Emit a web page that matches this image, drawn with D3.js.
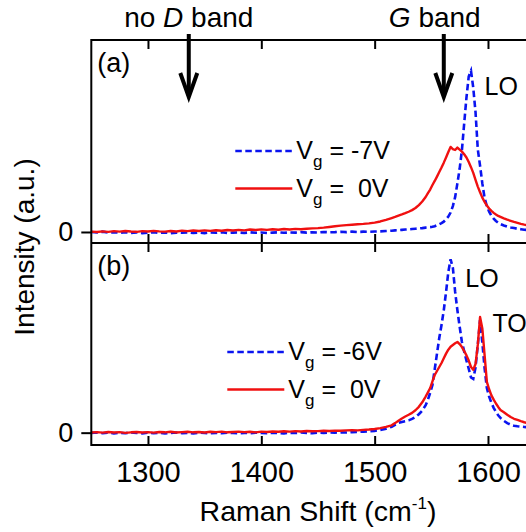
<!DOCTYPE html>
<html><head><meta charset="utf-8">
<script src="https://cdn.jsdelivr.net/npm/d3@7"></script>
<style>
html,body{margin:0;padding:0;background:#fff;}
svg{display:block;font-family:"Liberation Sans",Arial,sans-serif;}
</style></head><body>
<svg id="chart" width="526" height="532"></svg>
<script>
// Raman shift grid (cm^-1)
const shift = [
1250,1255,1260,1265,1270,1275,1280,1285,1290,1295,
1300,1305,1310,1315,1320,1325,1330,1335,1340,1345,
1350,1355,1360,1365,1370,1375,1380,1385,1390,1395,
1400,1405,1410,1415,1420,1425,1430,1435,1440,1445,
1450,1455,1460,1465,1470,1475,1480,1485,1490,1495,
1500,1505,1510,1515,
1518,1521,1524,1527,1530,1533,1536,1539,1542,1545,
1547,1549,1551,1553,1555,1557,1559,1561,1563,1565,
1567,1569,1571,1573,1575,1577,1579,1581,1583,1585,
1587,1589,1591,1593,1595,1597,1599,1601,1603,1605,
1607,1609,1611,
1614,1617,1620,1623,1626,1629,1632,1635,1638,1641,1644,1647,1650];

// Panel (a): Vg = -7V (blue dashed)
const aNeg7 = [
0.000,-0.003,0.002,-0.004,-0.001,-0.005,-0.002,-0.006,-0.003,-0.007,
-0.004,-0.002,-0.006,-0.003,-0.008,-0.004,-0.005,-0.002,-0.006,-0.004,
-0.007,-0.003,-0.005,-0.002,-0.006,-0.004,-0.003,-0.006,-0.002,-0.005,
-0.003,-0.006,-0.004,-0.002,-0.005,-0.003,-0.004,-0.001,-0.004,-0.002,
-0.003,0.000,-0.002,-0.001,0.001,-0.001,0.002,0.000,0.002,0.001,
0.003,0.004,0.006,0.008,
0.010,0.011,0.013,0.015,0.016,0.018,0.020,0.022,0.024,0.027,
0.028,0.030,0.032,0.036,0.042,0.048,0.055,0.064,0.078,0.095,
0.120,0.160,0.215,0.300,0.390,0.506,0.670,0.830,0.960,0.995,
0.890,0.740,0.510,0.410,0.300,0.210,0.160,0.125,0.100,0.082,
0.068,0.057,0.049,
0.040,0.033,0.028,0.024,0.020,0.017,0.014,0.012,0.010,0.009,0.008,0.007,0.006];

// Panel (a): Vg = 0V (red solid)
const aZero = [
0.002,0.000,0.004,0.001,0.005,0.002,0.006,0.003,0.001,0.005,
0.003,0.007,0.004,0.002,0.006,0.003,0.008,0.005,0.009,0.006,
0.010,0.007,0.011,0.008,0.012,0.009,0.013,0.010,0.015,0.012,
0.016,0.013,0.017,0.014,0.018,0.015,0.019,0.017,0.020,0.022,
0.024,0.027,0.031,0.035,0.039,0.042,0.045,0.048,0.050,0.053,
0.058,0.065,0.075,0.086,
0.093,0.101,0.108,0.116,0.125,0.135,0.148,0.166,0.188,0.216,
0.240,0.262,0.290,0.315,0.342,0.370,0.398,0.428,0.460,0.494,
0.525,0.512,0.506,0.521,0.508,0.496,0.480,0.460,0.432,0.400,
0.365,0.322,0.280,0.245,0.212,0.186,0.163,0.145,0.130,0.118,
0.108,0.099,0.093,
0.084,0.076,0.069,0.062,0.056,0.050,0.045,0.041,0.037,0.034,0.031,0.028,0.026];

// Panel (b): Vg = -6V (blue dashed)
const bNeg6 = [
-0.002,0.001,-0.003,0.000,-0.004,-0.001,-0.003,0.001,-0.002,-0.004,
0.000,-0.003,-0.001,-0.004,-0.002,0.001,-0.003,-0.001,-0.004,0.000,
-0.002,-0.004,-0.001,-0.003,0.000,-0.002,-0.004,-0.001,-0.003,0.000,
-0.002,-0.003,0.000,-0.002,-0.004,-0.001,-0.002,0.001,-0.001,-0.003,
0.000,-0.001,0.001,0.000,0.002,0.001,0.003,0.004,0.006,0.008,
0.010,0.015,0.022,0.034,
0.045,0.056,0.062,0.066,0.071,0.079,0.090,0.106,0.127,0.158,
0.190,0.230,0.275,0.365,0.455,0.545,0.620,0.705,0.810,0.925,
0.998,0.950,0.812,0.705,0.610,0.522,0.468,0.415,0.368,0.318,
0.310,0.375,0.505,0.648,0.520,0.372,0.257,0.208,0.172,0.143,
0.120,0.100,0.085,
0.068,0.055,0.046,0.040,0.037,0.035,0.033,0.031,0.029,0.027,0.025,0.023,0.021];

// Panel (b): Vg = 0V (red solid)
const bZero = [
0.001,0.003,0.000,0.004,0.001,0.003,-0.001,0.002,0.004,0.001,
0.003,0.000,0.004,0.002,0.005,0.001,0.003,0.005,0.002,0.004,
0.001,0.005,0.003,0.006,0.002,0.004,0.006,0.003,0.005,0.002,
0.006,0.004,0.007,0.005,0.008,0.006,0.009,0.007,0.010,0.008,
0.009,0.011,0.010,0.012,0.011,0.013,0.014,0.013,0.016,0.018,
0.021,0.026,0.033,0.042,
0.055,0.069,0.082,0.093,0.103,0.114,0.129,0.149,0.175,0.208,
0.232,0.257,0.295,0.332,0.355,0.378,0.401,0.428,0.455,0.478,
0.495,0.505,0.515,0.522,0.510,0.493,0.470,0.445,0.415,0.378,
0.362,0.395,0.505,0.666,0.600,0.447,0.292,0.250,0.215,0.190,
0.168,0.148,0.131,
0.118,0.103,0.090,0.080,0.073,0.066,0.060,0.055,0.051,0.047,0.044,0.041,0.039];

const xTicks = [1300, 1400, 1500, 1600];
const yTicks = [0];
const arrowShifts = [1336, 1561];
const arrowLabelPre = ["no ", ""];
const arrowLabelItalic = ["D", "G"];
const arrowLabelPost = [" band", " band"];
const panelLabels = ["(a)", "(b)"];
const legendGate = [["-7V", " 0V"], ["-6V", " 0V"]];
const peakText = [["LO"], ["LO", "TO"]];
const peakShift = [[1597], [1580, 1604]];
const peakHeight = [[0.846], [0.839, 0.578]];

// ---- layout ----
const W = 526, H = 532;
const left = 91.3;
const svg = d3.select("#chart");
svg.append("rect").attr("width", W).attr("height", H).attr("fill", "#fff");

const x = d3.scaleLinear().domain([1250, 1650]).range([left, left + 400 * 1.1334]);
const panels = [
  {top: 40, bottom: 243, dom: [-0.068, 1.185], leg: [144, 111]},
  {top: 243, bottom: 445, dom: [-0.071, 1.092], leg: [136, 109]}
];
panels[0].blue = aNeg7; panels[0].red = aZero;
panels[1].blue = bNeg6; panels[1].red = bZero;

const BLUE = "#0a14f0", RED = "#f01010";
const dash = "6.5,3.5";
const FF = '"Liberation Sans",Arial,sans-serif';

panels.forEach((p, i) => {
  const y = d3.scaleLinear().domain(p.dom).range([p.bottom, p.top]);
  const g = svg.append("g");
  const cid = "clip" + i;
  svg.append("clipPath").attr("id", cid).append("rect")
    .attr("x", left).attr("y", p.top).attr("width", 500).attr("height", p.bottom - p.top);

  const line = d3.line().x((d, k) => x(shift[k])).y(d => y(d));
  g.append("path").datum(p.blue).attr("clip-path", `url(#${cid})`)
    .attr("d", line).attr("fill", "none").attr("stroke", BLUE)
    .attr("stroke-width", 2.6).attr("stroke-dasharray", dash);
  g.append("path").datum(p.red).attr("clip-path", `url(#${cid})`)
    .attr("d", line).attr("fill", "none").attr("stroke", RED)
    .attr("stroke-width", 2.4).attr("stroke-linejoin", "round");

  // y axis tick (outside) with label 0
  const ya = svg.append("g").attr("transform", `translate(${left},0)`)
    .call(d3.axisLeft(y).tickValues(yTicks).tickFormat(d3.format("d")).tickSizeInner(10).tickSizeOuter(0).tickPadding(8));
  ya.select(".domain").remove();
  ya.selectAll("line").attr("stroke", "#000").attr("stroke-width", 2);
  ya.selectAll("text").attr("font-size", 27).attr("fill", "#000").attr("font-family", FF);

  // inward x ticks at top and bottom of each panel
  const tTop = svg.append("g").attr("transform", `translate(0,${p.top})`)
    .call(d3.axisTop(x).tickValues(xTicks).tickSizeInner(-9).tickSizeOuter(0).tickFormat(""));
  tTop.select(".domain").remove();
  tTop.selectAll("line").attr("stroke", "#000").attr("stroke-width", 2);
  const tBot = svg.append("g").attr("transform", `translate(0,${p.bottom})`)
    .call(d3.axisBottom(x).tickValues(xTicks).tickSizeInner(-9).tickSizeOuter(0).tickFormat(""));
  tBot.select(".domain").remove();
  tBot.selectAll("line").attr("stroke", "#000").attr("stroke-width", 2);

  // panel label
  svg.append("text").attr("x", left + 6).attr("y", p.top + 32)
    .attr("font-size", 27).text(panelLabels[i]);

  // legend
  const lx = left + p.leg[0], ly = p.top + p.leg[1];
  [0, 1].forEach(r => {
    const yy = ly + r * 37.5;
    svg.append("line").attr("x1", lx).attr("x2", lx + 57).attr("y1", yy).attr("y2", yy)
      .attr("stroke", r === 0 ? BLUE : RED).attr("stroke-width", r === 0 ? 2.6 : 2.4)
      .attr("stroke-dasharray", r === 0 ? dash : null);
    const t = svg.append("text").attr("x", lx + 61).attr("y", yy + 8)
      .attr("font-size", 25).style("white-space", "pre");
    t.append("tspan").text("V");
    t.append("tspan").attr("font-size", 17).attr("dy", 8).text("g");
    t.append("tspan").attr("dy", -8).text(" = " + legendGate[i][r]);
  });

  // peak labels
  peakText[i].forEach((s, k) => {
    svg.append("text").attr("x", x(peakShift[i][k])).attr("y", y(peakHeight[i][k]))
      .attr("font-size", 25).text(s);
  });
});

// frame
const frame = svg.append("g").attr("stroke", "#000").attr("stroke-width", 2).attr("fill", "none");
frame.append("line").attr("x1", left).attr("x2", W + 20).attr("y1", 40).attr("y2", 40);
frame.append("line").attr("x1", left).attr("x2", W + 20).attr("y1", 243).attr("y2", 243);
frame.append("line").attr("x1", left).attr("x2", W + 20).attr("y1", 445).attr("y2", 445);
frame.append("line").attr("x1", left).attr("x2", left).attr("y1", 39).attr("y2", 446);

// bottom tick labels
const xa = svg.append("g").attr("transform", "translate(0,445)")
  .call(d3.axisBottom(x).tickValues(xTicks).tickFormat(d3.format("d")).tickSize(0).tickPadding(16));
xa.select(".domain").remove();
xa.selectAll("text").attr("font-size", 29).attr("fill", "#000").attr("font-family", FF);

// axis titles
const xt = svg.append("text").attr("x", left + 200 * 1.1334).attr("y", 521)
  .attr("text-anchor", "middle").attr("font-size", 28.5);
xt.append("tspan").text("Raman Shift (cm");
xt.append("tspan").attr("font-size", 17).attr("dy", -12).text("-1");
xt.append("tspan").attr("dy", 12).text(")");

svg.append("text").attr("transform", "translate(34,247) rotate(-90)")
  .attr("text-anchor", "middle").attr("font-size", 28).text("Intensity (a.u.)");

// arrows with labels
const labelDx = [0, -9];
arrowShifts.forEach((s, i) => {
  const ax = x(s);
  svg.append("line").attr("x1", ax).attr("x2", ax).attr("y1", 34).attr("y2", 95)
    .attr("stroke", "#000").attr("stroke-width", 4);
  svg.append("path").attr("d", `M${ax - 8.5},73 L${ax},97 L${ax + 8.5},73`)
    .attr("fill", "none").attr("stroke", "#000").attr("stroke-width", 4)
    .attr("stroke-linejoin", "miter");
  const t = svg.append("text").attr("x", ax + labelDx[i]).attr("y", 27)
    .attr("text-anchor", "middle").attr("font-size", 28).style("white-space", "pre");
  t.append("tspan").text(arrowLabelPre[i]);
  t.append("tspan").attr("font-style", "italic").text(arrowLabelItalic[i]);
  t.append("tspan").text(arrowLabelPost[i]);
});
</script>
</body></html>
